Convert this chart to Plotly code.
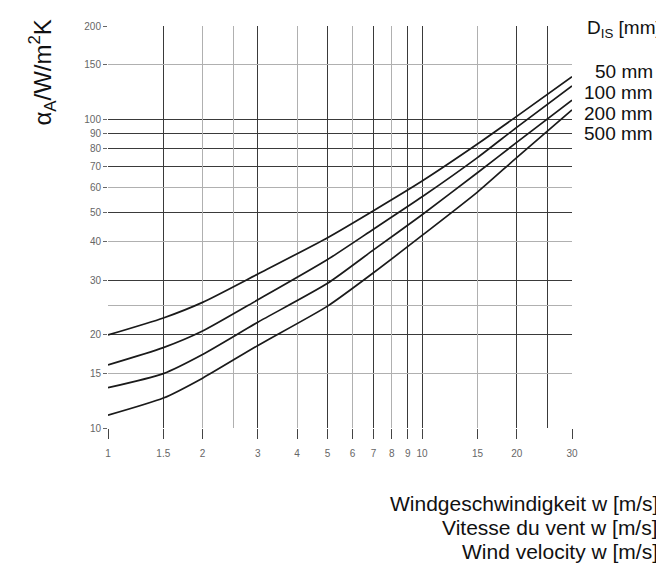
import plotly.graph_objects as go
import numpy as np

# Data (log-log chart)
wind = [1, 1.5, 2, 3, 5, 7, 10, 15, 20, 30]
alpha_50 = [20.0, 22.7, 25.5, 31.5, 41.3, 50.5, 63, 83, 102, 137]
alpha_100 = [16.0, 18.2, 20.6, 26.0, 35.1, 44.0, 56, 75, 94, 128]
alpha_200 = [13.5, 15.0, 17.3, 22.0, 29.4, 37.7, 49, 67, 84, 115]
alpha_500 = [11.0, 12.5, 14.5, 18.5, 24.8, 31.8, 42, 58, 75, 107]
series_names = ["50 mm", "100 mm", "200 mm", "500 mm"]

x_ticks = [1, 1.5, 2, 3, 4, 5, 6, 7, 8, 9, 10, 15, 20, 30]
x_tick_text = ["1", "1.5", "2", "3", "4", "5", "6", "7", "8", "9", "10", "15", "20", "30"]
x_grid_major = [1, 1.5, 3, 5, 7, 9, 10, 20, 25, 30]
x_grid_minor = [2, 2.5, 4, 6, 8, 15]

y_ticks = [10, 15, 20, 30, 40, 50, 60, 70, 80, 90, 100, 150, 200]
y_tick_text = [str(v) for v in y_ticks]
y_grid_major = [10, 20, 30, 50, 70, 80, 90, 100]
y_grid_minor = [15, 25, 40, 60, 150, 200]

OFF = 8  # page body margin (left/top)
W, H = 664 - OFF, 564 - OFF
pl, pr, pt, pb = 108 - OFF, 664 - 572, 22 - OFF, 564 - 428
pw, ph = W - pl - pr, H - pt - pb

fig = go.Figure()
for name, vals in zip(series_names, [alpha_50, alpha_100, alpha_200, alpha_500]):
    fig.add_trace(go.Scatter(
        x=wind, y=vals, mode="lines", name=name,
        line=dict(color="#1a1a1a", width=1.7, shape="spline", smoothing=0.6),
        showlegend=False,
    ))

tick_font = dict(family="Liberation Sans, Arial, sans-serif", size=10, color="#666666")

fig.update_xaxes(
    type="log", range=[0, np.log10(30)],
    tickmode="array", tickvals=x_ticks, ticktext=x_tick_text,
    showgrid=False, zeroline=False, showline=False,
    ticks="outside", ticklen=10, tickcolor="#444444", tickwidth=1,
    ticklabelstandoff=6,
    tickfont=tick_font,
    minor=dict(tickmode="array", tickvals=x_grid_major, showgrid=True,
               gridcolor="#3a3a3a", gridwidth=1.3, ticks=""),
)
fig.update_yaxes(
    type="log", range=[1, np.log10(200)],
    tickmode="array", tickvals=y_ticks, ticktext=y_tick_text,
    showgrid=False, zeroline=False, showline=False,
    ticks="outside", ticklen=4, tickcolor="#666666",
    tickfont=tick_font,
    minor=dict(tickmode="array", tickvals=y_grid_major, showgrid=True,
               gridcolor="#3a3a3a", gridwidth=1.3, ticks=""),
)

fig.update_layout(
    xaxis2=dict(type="log", range=[0, np.log10(30)], overlaying="x",
                tickmode="array", tickvals=x_grid_minor, showticklabels=False,
                showgrid=True, gridcolor="#b0b0b0", gridwidth=1, zeroline=False,
                ticks=""),
    yaxis2=dict(type="log", range=[1, np.log10(200)], overlaying="y",
                tickmode="array", tickvals=y_grid_minor, showticklabels=False,
                showgrid=True, gridcolor="#b0b0b0", gridwidth=1, zeroline=False,
                ticks=""),
)
fig.add_trace(go.Scatter(x=[1], y=[10], xaxis="x2", yaxis="y2", mode="markers",
                         marker=dict(opacity=0), showlegend=False, hoverinfo="skip"))

text_font = dict(family="Liberation Sans, Arial, sans-serif", color="#111111")

# (text, x, y in window pixels, size, xanchor, angle)
labels = [
    ("α<sub>A</sub>/W/m<sup>2</sup>K", 42, 69, 24, "center", -90),
    ("D<sub>IS</sub> [mm]", 585, 25, 19, "left", 0),
]
for i, name in enumerate(series_names):
    labels.append((name, 655, 68 + 21 * i, 19, "right", 0))
for i, line in enumerate(["Windgeschwindigkeit w [m/s]", "Vitesse du vent w [m/s]",
                          "Wind velocity w [m/s]"]):
    labels.append((line, 660, 504 + 24.5 * i, 21, "right", 0))

annotations = []
for text, x, y, size, xa, ang in labels:
    fx, fy = x - OFF, y - OFF
    annotations.append(dict(
        text=text, xref="paper", yref="paper",
        x=(fx - pl) / pw, y=1 - (fy - pt) / ph,
        xanchor=xa, yanchor="middle", showarrow=False, textangle=ang,
        font=dict(size=size, **text_font),
    ))

fig.update_layout(
    width=W, height=H,
    margin=dict(l=pl, r=pr, t=pt, b=pb),
    plot_bgcolor="white", paper_bgcolor="white",
    annotations=annotations,
)

fig.write_html("out.html")
